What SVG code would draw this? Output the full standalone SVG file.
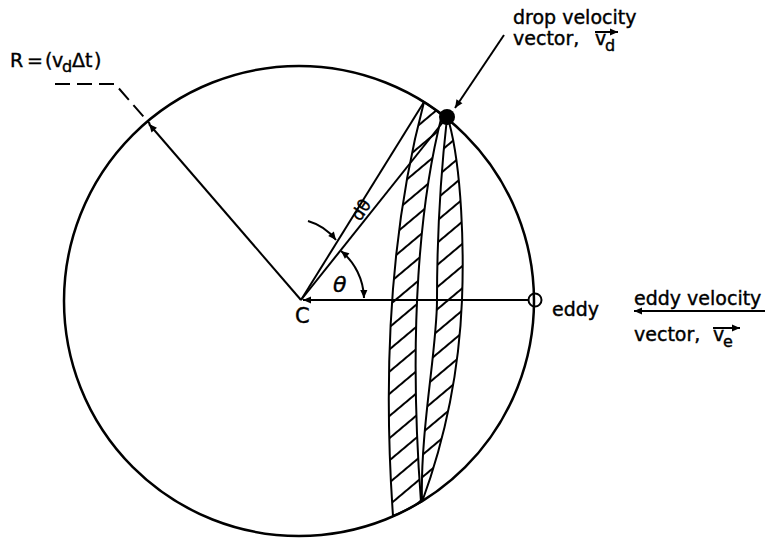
<svg xmlns="http://www.w3.org/2000/svg" width="767" height="540" viewBox="0 0 767 540">
<style>
.ln{stroke:#000;stroke-width:2;fill:none}
.big{stroke:#000;stroke-width:2.5;fill:none}
.dash{stroke:#000;stroke-width:2;fill:none;stroke-dasharray:15 7}
.t{font-family:"DejaVu Sans",sans-serif;font-size:19px;fill:#000;stroke:#000;stroke-width:0.4}
.sub{font-size:16px}
.band{stroke:#000;stroke-width:2;fill:url(#hatch)}
</style>
<defs>
<marker id="ah" viewBox="0 0 10 10" refX="10" refY="5" markerWidth="13" markerHeight="8" markerUnits="userSpaceOnUse" orient="auto-start-reverse"><path d="M0,0.5 L10,5 L0,9.5 z" fill="#000"/></marker>
<pattern id="hatch" patternUnits="userSpaceOnUse" width="40" height="17" patternTransform="rotate(-40)"><line x1="0" y1="8" x2="40" y2="8" stroke="#000" stroke-width="1.8"/></pattern>
</defs>
<rect width="767" height="540" fill="#fff"/>

<g id="circle"><circle cx="299" cy="301" r="235" class="big"/></g>

<g id="bandA"><path class="band" d="M424 102 C398 200 380 330 393 516 A235 235 0 0 0 421 502 C408 330 420 200 442 115 A235 235 0 0 0 424 102 Z"/></g>
<g id="bandB"><path class="band" d="M447 118 C440 180 437 250 437 300 C437 350 420 430 422 502 C452 420 460 350 462 300 C464 250 462 170 449 122 Z"/></g>

<g id="connectors">
<line class="ln" x1="301" y1="300" x2="149" y2="124" marker-end="url(#ah)"/>
<polyline class="dash" points="55,84 115,84 150,124"/>
<line class="ln" x1="301" y1="300" x2="424" y2="102"/>
<line class="ln" x1="301" y1="300" x2="447" y2="117"/>
<line class="ln" x1="529" y1="300" x2="303" y2="300" marker-end="url(#ah)"/>
<path class="ln" d="M364 298 A63 63 0 0 0 341 251" marker-start="url(#ah)" marker-end="url(#ah)"/>
<path class="ln" d="M308 221 Q325 226 336 240" marker-end="url(#ah)"/>
<line class="ln" x1="504" y1="35" x2="455" y2="108" marker-end="url(#ah)"/>
<line class="ln" x1="765" y1="311" x2="634" y2="311" marker-end="url(#ah)"/>
</g>

<g id="drop"><circle cx="447" cy="117" r="8" fill="#000"/></g>
<g id="eddy"><circle cx="535" cy="300" r="6.5" class="ln"/><text class="t" x="552" y="316">eddy</text></g>
<g id="center"><text class="t" x="295" y="323" style="font-size:21px">C</text></g>

<g id="labels">
<text class="t" x="10" y="67">R<tspan x="27">=</tspan><tspan x="45">(</tspan><tspan x="52">v</tspan><tspan class="sub" x="62" dy="5">d</tspan><tspan x="72" dy="-5">Δ</tspan><tspan x="85">t</tspan><tspan x="94">)</tspan></text>
<text class="t" x="513" y="24">drop velocity</text>
<text class="t" x="513" y="45">vector,<tspan x="595">v</tspan><tspan class="sub" x="605" dy="6">d</tspan></text>
<line class="ln" x1="595" y1="32" x2="618" y2="32" marker-end="url(#ah)"/>
<text class="t" x="634" y="305">eddy velocity</text>
<text class="t" x="634" y="341">vector,<tspan x="713">v</tspan><tspan class="sub" x="723" dy="6">e</tspan></text>
<line class="ln" x1="713" y1="328" x2="740" y2="328" marker-end="url(#ah)"/>
<text class="t" x="333" y="292" style="font-style:italic;font-size:22px">θ</text>
<text class="t" transform="translate(360,222) rotate(-56)" style="font-size:17px">dθ</text>
</g>
</svg>
